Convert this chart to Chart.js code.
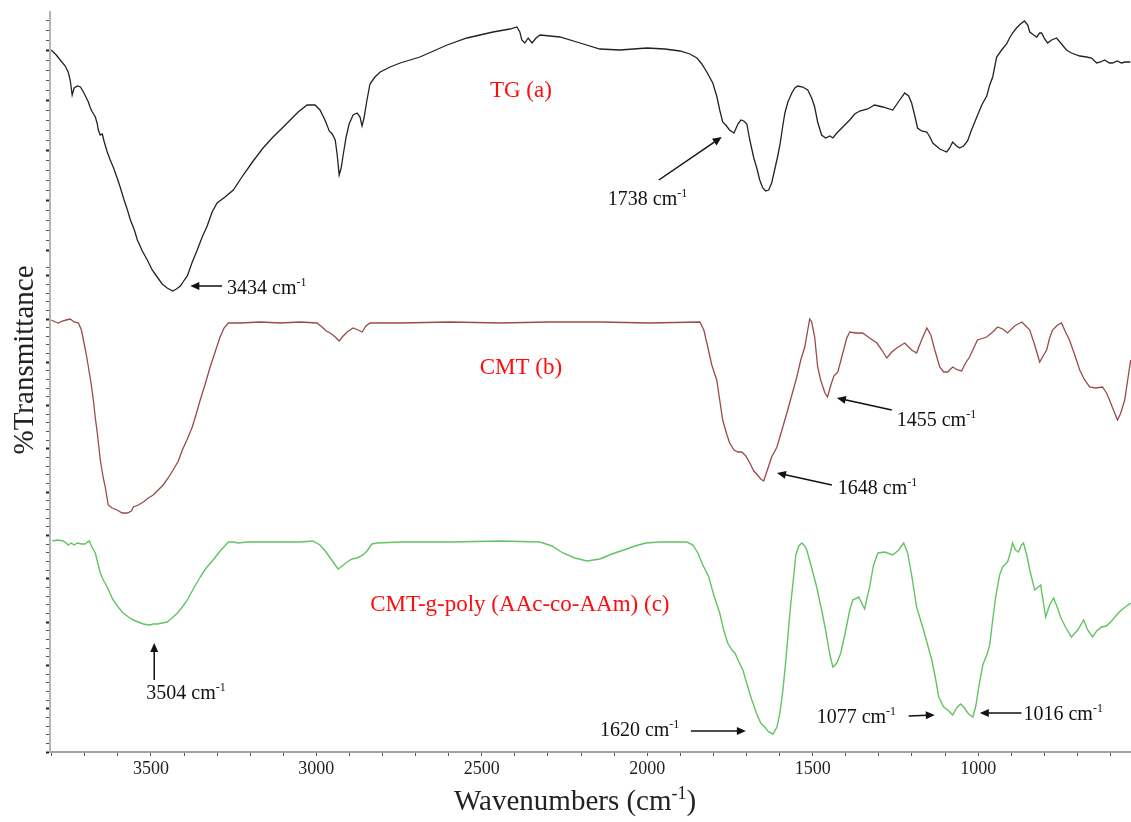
<!DOCTYPE html>
<html>
<head>
<meta charset="utf-8">
<title>FTIR spectra</title>
<script src="https://cdn.jsdelivr.net/npm/chart.js@4.4.1/dist/chart.umd.min.js"></script>
<style>
  html, body { margin: 0; padding: 0; background: #fff; }
  canvas { display: block; }
</style>
</head>
<body>
<canvas id="ftir" width="1131" height="822"></canvas>
<script>
// ---- spectra: wavenumber (cm-1) and stacked transmittance (arbitrary offset units) ----
const tgWavenumbers = [3801,3786,3774,3759,3750,3744,3738,3732,3722,3713,3704,3695,3689,3683,3677,3668,3662,3659,3653,3647,3641,3632,3623,3614,3602,3593,3581,3571,3562,3550,3541,3526,3511,3496,3481,3466,3451,3434,3423,3411,3399,3390,3375,3360,3345,3330,3315,3300,3276,3251,3221,3191,3161,3131,3103,3079,3055,3028,3004,2989,2974,2961,2952,2943,2937,2931,2925,2919,2910,2901,2889,2877,2868,2862,2856,2847,2838,2823,2807,2777,2747,2687,2605,2545,2466,2415,2394,2385,2379,2370,2360,2348,2336,2324,2264,2203,2143,2083,2001,1947,1901,1871,1850,1835,1820,1802,1790,1781,1772,1763,1751,1738,1726,1717,1708,1699,1690,1678,1669,1660,1651,1642,1633,1624,1615,1605,1599,1590,1584,1575,1563,1554,1545,1530,1515,1503,1494,1485,1473,1461,1448,1439,1427,1418,1403,1388,1373,1358,1334,1313,1288,1258,1237,1222,1210,1201,1192,1183,1171,1155,1146,1137,1116,1095,1086,1077,1065,1056,1044,1032,1020,1004,989,974,965,956,944,929,914,905,896,884,872,860,850,844,832,823,814,808,799,790,778,763,748,733,718,693,672,657,642,630,618,603,594,579,567,555,540];
const tgTransmittance = [70.2,69.7,69.2,68.6,68.0,67.2,65.7,66.4,66.6,66.5,66.0,65.4,65.0,64.4,64.0,63.5,62.8,62.2,61.7,61.8,61.0,60.0,59.2,58.5,57.4,56.5,55.2,54.2,53.2,52.2,51.2,50.1,49.2,48.2,47.5,46.8,46.4,46.1,46.3,46.6,47.2,47.6,49.0,50.2,51.5,52.6,54.0,54.9,55.5,56.2,57.7,59.1,60.4,61.5,62.4,63.2,64.0,64.7,64.7,64.2,63.2,62.1,61.8,61.2,59.7,57.7,58.4,59.7,61.5,62.8,63.7,63.9,63.5,62.6,63.4,65.2,66.8,67.5,68.0,68.5,68.9,69.5,70.7,71.4,72.0,72.3,72.5,72.0,71.2,70.9,71.4,70.9,71.4,71.7,71.5,70.9,70.3,70.2,70.4,70.3,70.1,69.8,69.4,68.8,68.0,66.9,65.6,64.2,63.0,62.7,62.2,61.9,62.8,63.2,63.1,62.8,61.2,59.4,58.4,57.2,56.4,56.1,56.2,56.9,58.2,59.7,60.7,62.7,63.9,65.0,65.9,66.4,66.6,66.5,66.2,65.4,64.5,63.0,61.7,61.4,61.6,61.4,61.9,62.2,62.7,63.2,63.8,64.1,64.3,64.7,64.5,64.2,65.2,65.9,65.6,64.9,63.7,62.4,62.1,62.0,61.5,60.9,60.3,60.0,60.4,61.0,60.6,60.4,60.6,61.1,62.2,63.5,64.7,65.6,66.7,67.5,69.5,70.2,70.8,71.4,71.9,72.4,72.8,73.1,72.7,72.0,71.7,71.5,71.9,71.9,71.3,70.9,71.2,71.4,70.8,70.2,69.9,69.6,69.5,69.4,68.9,69.0,69.2,68.9,68.9,69.1,68.9,69.0,69.0];

const cmtWavenumbers = [3801,3789,3780,3768,3756,3744,3732,3719,3710,3704,3695,3689,3680,3674,3668,3662,3653,3644,3638,3629,3617,3602,3587,3571,3559,3553,3538,3523,3508,3493,3478,3463,3448,3433,3417,3405,3390,3375,3363,3351,3336,3321,3306,3291,3279,3266,3230,3170,3109,3049,2998,2983,2970,2958,2943,2931,2919,2907,2889,2874,2862,2850,2838,2747,2596,2445,2294,2143,1992,1841,1829,1817,1805,1790,1781,1772,1759,1751,1738,1726,1714,1702,1690,1678,1669,1657,1648,1636,1624,1608,1593,1578,1563,1548,1536,1524,1515,1509,1503,1494,1485,1476,1463,1455,1445,1436,1424,1409,1397,1388,1370,1349,1328,1306,1291,1276,1261,1246,1222,1201,1186,1171,1155,1143,1131,1116,1104,1092,1077,1062,1050,1038,1026,1002,974,956,941,926,911,890,868,856,844,829,814,802,793,784,775,760,748,736,724,708,693,678,663,645,624,612,603,591,579,570,557,548,539];
const cmtTransmittance = [43.2,43.0,42.9,43.1,43.2,43.3,43.0,42.9,42.2,41.2,39.7,38.5,36.7,35.2,33.4,31.9,29.2,27.4,26.5,24.7,24.4,24.2,23.9,23.9,24.1,24.5,24.7,25.0,25.4,25.7,26.2,26.7,27.4,28.2,29.1,30.2,31.3,32.5,33.8,35.2,36.8,38.5,40.0,41.5,42.4,42.9,42.9,43.0,42.9,43.0,42.9,42.5,42.1,41.9,41.5,41.1,41.6,42.0,42.4,42.2,42.0,42.6,42.9,42.9,43.0,42.9,43.0,43.0,42.9,43.0,42.2,40.5,38.7,37.2,35.2,33.2,31.7,30.9,30.2,30.0,30.0,29.6,28.9,28.1,27.8,27.3,27.1,28.3,29.5,30.5,32.2,33.9,35.7,37.5,39.2,40.5,42.2,43.3,43.0,41.5,38.5,37.2,35.9,35.5,36.7,37.6,38.0,39.9,41.4,42.0,41.9,41.9,41.4,40.9,40.2,39.4,40.0,40.4,40.9,40.2,39.9,41.2,42.4,41.7,40.2,38.5,38.0,38.0,38.5,38.2,38.1,38.9,39.5,41.2,41.5,42.0,42.5,42.3,41.9,42.6,43.0,42.6,42.2,40.7,39.0,39.7,40.2,41.4,42.2,42.7,42.9,42.0,41.2,39.7,38.2,37.2,36.5,36.4,36.5,35.9,35.2,34.2,33.2,33.8,35.2,37.2,39.2];

const gelWavenumbers = [3798,3783,3765,3756,3750,3741,3732,3722,3710,3698,3692,3686,3680,3668,3659,3653,3644,3632,3623,3614,3599,3584,3568,3553,3538,3523,3504,3493,3481,3466,3451,3436,3420,3405,3390,3372,3351,3333,3312,3291,3266,3251,3236,3209,3140,3049,3010,2989,2973,2958,2943,2934,2922,2907,2892,2877,2859,2847,2832,2816,2747,2596,2445,2324,2288,2255,2219,2182,2143,2107,2071,2037,2004,1962,1880,1862,1847,1832,1814,1799,1781,1769,1757,1744,1735,1723,1711,1696,1684,1669,1657,1645,1633,1620,1608,1599,1590,1581,1572,1566,1557,1551,1542,1533,1524,1518,1503,1488,1473,1461,1448,1439,1427,1415,1400,1388,1379,1361,1343,1328,1316,1303,1282,1258,1240,1225,1213,1201,1186,1165,1140,1128,1119,1104,1089,1077,1065,1053,1041,1029,1016,1007,998,986,974,965,956,947,935,926,911,902,896,887,878,869,863,853,844,829,811,796,784,772,760,751,736,718,699,681,669,654,642,627,612,594,579,567,551,539];
const gelTransmittance = [21.1,21.2,21.1,20.9,20.7,20.9,20.7,20.9,20.8,20.8,21.0,21.1,20.6,19.9,18.7,17.9,17.2,16.5,15.8,15.2,14.5,13.9,13.5,13.2,13.0,12.8,12.7,12.8,12.8,12.9,13.0,13.4,13.9,14.5,15.2,16.3,17.5,18.4,19.2,20.1,21.0,21.0,20.9,21.0,21.0,21.0,21.1,20.7,20.1,19.4,18.7,18.3,18.6,19.0,19.3,19.4,19.7,20.1,20.8,20.9,21.0,21.0,21.1,21.0,20.6,19.9,19.4,19.1,19.3,19.8,20.2,20.6,20.9,21.0,21.0,20.7,19.9,18.7,17.5,15.7,13.9,12.2,10.9,10.2,9.9,9.0,8.2,6.5,5.2,3.8,2.9,2.5,2.0,1.8,2.5,3.9,6.2,9.2,12.7,14.9,17.7,19.7,20.6,20.9,20.6,20.2,18.4,16.5,14.2,12.2,9.7,8.5,8.9,9.9,12.2,14.2,15.2,15.5,14.3,16.5,18.7,19.9,20.0,19.7,20.2,20.9,19.9,17.7,14.5,12.2,9.2,7.2,5.5,4.5,4.1,3.7,4.4,4.8,4.4,3.8,3.5,4.6,6.5,8.7,9.7,10.7,13.2,15.5,17.7,18.5,19.0,20.0,20.9,20.2,20.0,20.7,20.9,19.7,18.2,16.2,16.7,13.5,14.7,15.4,14.4,13.5,12.5,11.5,12.2,13.2,12.2,11.5,12.1,12.5,12.6,13.2,13.8,14.2,14.6,14.9];

// ---- axis labels ----
const xTickLabels = [3500, 3000, 2500, 2000, 1500, 1000];

// ---- sample names and peak notes ----
const sampleNames = ['TG (a)', 'CMT (b)', 'CMT-g-poly (AAc-co-AAm) (c)'];
const peakWavenumbers = [3434, 1738, 1455, 1648, 3504, 1620, 1077, 1016];

// placement of the notes, in chart units (wavenumber, transmittance)
const sampleLabelAt = [[2382, 66.1], [2382, 38.4], [2385, 14.7]];
const noteTextAt   = [[3270, 46.5], [2119, 55.4], [1246, 33.3], [1424, 26.5], [3514, 6.0], [2143, 2.35], [1488, 3.6], [863, 3.9]];
const noteArrowFrom = [[3285, 46.6], [1965, 57.2], [1261, 34.2], [1442, 26.7], [3490, 7.2], [1868, 2.1], [1210, 3.6], [869, 3.9]];
const noteArrowTo   = [[3381, 46.6], [1775, 61.5], [1427, 35.4], [1608, 27.9], [3490, 10.9], [1702, 2.1], [1131, 3.7], [995, 3.9]];

const SERIF = '"Liberation Serif", "Times New Roman", Times, serif';

function pairUp(xs, ys) { return xs.map((x, i) => ({ x: x, y: ys[i] })); }

// text with superscript segments: parts = [[text, isSuper], ...]
function drawRich(ctx, parts, x, y, size, align, color) {
  ctx.fillStyle = color;
  ctx.textBaseline = 'alphabetic';
  ctx.textAlign = 'left';
  const supSize = Math.round(size * 0.62);
  let total = 0;
  parts.forEach(p => {
    ctx.font = (p[1] ? supSize : size) + 'px ' + SERIF;
    total += ctx.measureText(p[0]).width;
  });
  let cx = align === 'center' ? x - total / 2 : x;
  parts.forEach(p => {
    ctx.font = (p[1] ? supSize : size) + 'px ' + SERIF;
    ctx.fillText(p[0], cx, p[1] ? y - size * 0.38 : y);
    cx += ctx.measureText(p[0]).width;
  });
}

function drawArrow(ctx, x1, y1, x2, y2) {
  const ang = Math.atan2(y2 - y1, x2 - x1);
  const len = 9, half = 4;
  ctx.strokeStyle = '#111';
  ctx.fillStyle = '#111';
  ctx.lineWidth = 1.5;
  ctx.beginPath();
  ctx.moveTo(x1, y1);
  ctx.lineTo(x2 - Math.cos(ang) * len * 0.8, y2 - Math.sin(ang) * len * 0.8);
  ctx.stroke();
  ctx.beginPath();
  ctx.moveTo(x2, y2);
  ctx.lineTo(x2 - Math.cos(ang) * len - Math.sin(ang) * half, y2 - Math.sin(ang) * len + Math.cos(ang) * half);
  ctx.lineTo(x2 - Math.cos(ang) * len + Math.sin(ang) * half, y2 - Math.sin(ang) * len - Math.cos(ang) * half);
  ctx.closePath();
  ctx.fill();
}

const spectrumNotes = {
  id: 'spectrumNotes',
  afterDatasetsDraw(chart) {
    const { ctx, chartArea } = chart;
    const xs = chart.scales.x, ys = chart.scales.y;
    const px = w => xs.getPixelForValue(w);
    const py = v => ys.getPixelForValue(v);
    ctx.save();

    // sample names
    ctx.font = '23px ' + SERIF;
    ctx.fillStyle = '#ff0d0d';
    ctx.textAlign = 'center';
    ctx.textBaseline = 'middle';
    sampleNames.forEach((name, i) => {
      ctx.fillText(name, px(sampleLabelAt[i][0]), py(sampleLabelAt[i][1]));
    });

    // peak notes with arrows
    peakWavenumbers.forEach((wn, i) => {
      drawArrow(ctx, px(noteArrowFrom[i][0]), py(noteArrowFrom[i][1]),
                     px(noteArrowTo[i][0]), py(noteArrowTo[i][1]));
      drawRich(ctx, [[wn + ' cm', false], ['-1', true]],
               px(noteTextAt[i][0]), py(noteTextAt[i][1]) + 7, 20, 'left', '#111');
    });

    // axis titles
    drawRich(ctx, [['Wavenumbers (cm', false], ['-1', true], [')', false]],
             px(2218), xs.bottom - 12, 29, 'center', '#222');

    ctx.translate(chartArea.left - 25, py(39.2));
    ctx.rotate(-Math.PI / 2);
    ctx.font = '29px ' + SERIF;
    ctx.fillStyle = '#222';
    ctx.textAlign = 'center';
    ctx.textBaseline = 'middle';
    ctx.fillText('%Transmittance', 0, 0);
    ctx.restore();
  }
};

new Chart(document.getElementById('ftir'), {
  type: 'line',
  data: {
    datasets: [
      { label: sampleNames[0], data: pairUp(tgWavenumbers, tgTransmittance), borderColor: '#222222', borderWidth: 1.3 },
      { label: sampleNames[1], data: pairUp(cmtWavenumbers, cmtTransmittance), borderColor: '#9a4a48', borderWidth: 1.3 },
      { label: sampleNames[2], data: pairUp(gelWavenumbers, gelTransmittance), borderColor: '#62c462', borderWidth: 1.4 }
    ]
  },
  options: {
    responsive: false,
    animation: false,
    devicePixelRatio: 1,
    layout: { padding: { top: 12, left: 0, right: 0, bottom: 0 } },
    elements: { point: { radius: 0 }, line: { tension: 0, fill: false } },
    plugins: { legend: { display: false }, tooltip: { enabled: false } },
    scales: {
      x: {
        type: 'linear',
        reverse: true,
        min: 538,
        max: 3805,
        afterFit(s) { s.height = 70; },
        afterBuildTicks(s) {
          const t = [];
          for (let v = 600; v <= 3800; v += 100) t.push({ value: v });
          s.ticks = t;
        },
        ticks: {
          autoSkip: false,
          maxRotation: 0,
          padding: 2,
          color: '#222',
          font: { family: SERIF, size: 18 },
          callback: v => (xTickLabels.includes(v) ? String(v) : '')
        },
        grid: { drawOnChartArea: false, drawTicks: true, tickLength: 4, tickColor: '#555', tickWidth: 1 },
        border: { color: '#a2a2a2', width: 2 }
      },
      y: {
        min: 0,
        max: 74,
        afterFit(s) { s.width = 50; },
        afterBuildTicks(s) {
          const t = [];
          for (let i = 0; i <= 56; i++) t.push({ value: +(i * 0.866).toFixed(3), big: i % 5 === 0 });
          for (let k = -3; k <= 20; k++) t.push({ value: +(70.13 - k).toFixed(3), big: k % 5 === 0 });
          s.ticks = t;
        },
        ticks: { display: false },
        grid: {
          drawOnChartArea: false,
          drawTicks: true,
          tickLength: 4,
          tickColor: c => (c.tick && c.tick.big ? '#222' : '#555'),
          tickWidth: c => (c.tick && c.tick.big ? 2 : 1)
        },
        border: { color: '#b4b4b4', width: 2 }
      }
    }
  },
  plugins: [spectrumNotes]
});
</script>
</body>
</html>
